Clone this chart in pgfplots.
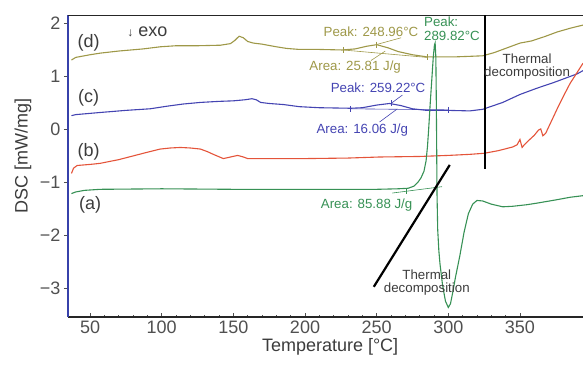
\documentclass[border=0pt]{standalone}
\usepackage{fontspec}
\setmainfont{Liberation Sans}
\usepackage{pgfplots}
\pgfplotsset{compat=1.18}
\definecolor{cOl}{RGB}{158,152,72}
\definecolor{cBl}{RGB}{68,68,178}
\definecolor{cRd}{RGB}{228,84,58}
\definecolor{cGr}{RGB}{55,145,85}
\definecolor{cAx}{RGB}{55,65,170}
\definecolor{cTk}{RGB}{80,80,80}
\definecolor{cTx}{RGB}{60,60,60}
\begin{document}
\begin{tikzpicture}[x=1pt,y=1pt]
\path[use as bounding box] (0,0) rectangle (583,365);
\begin{axis}[
  at={(68pt,48pt)}, anchor=south west,
  scale only axis, width=515pt, height=302pt,
  xmin=34.6, xmax=394, ymin=-3.55, ymax=2.15,
  clip=false,
  axis x line*=bottom, axis y line*=left,
  axis line style={-},
  x axis line style={black!85, line width=1.3pt},
  y axis line style={cAx, line width=1.3pt},
  xtick={50,100,...,350}, ytick={-3,-2,-1,0,1,2},
  yticklabels={−3,−2,−1,0,1,2},
  minor x tick num=4,
  xtick align=inside, ytick align=outside,
  tick style={cTk, line width=0.6pt},
  major tick length=4pt, minor tick length=2.5pt,
  tick label style={font=\fontsize{18}{20}\selectfont, text=cTk},
  /pgf/number format/assume math mode=true,
  xlabel={Temperature [°C]}, ylabel={DSC [mW/mg]},
  label style={font=\fontsize{18}{20}\selectfont, text=cTx},
  xlabel style={at={(axis description cs:0.509,-0.099)}, anchor=center},
  ylabel style={at={(axis description cs:-0.0874,0.533)}, anchor=center},
]
\draw[black!85, line width=0.9pt] (rel axis cs:0,1) -- (rel axis cs:1,1);
% (d) olive
\addplot[cOl, line width=1.1pt] coordinates {
(37,1.30) (40,1.35) (50,1.40) (57,1.43) (70,1.47) (87,1.51) (99,1.55) (110,1.57)
(125,1.57) (141,1.58) (148,1.61) (151,1.67) (154,1.75) (157,1.72) (160,1.65) (164,1.62)
(170,1.60) (180,1.55) (187,1.52) (196,1.50) (210,1.50) (226,1.49) (235,1.51) (243,1.56)
(250,1.59) (258,1.53) (265,1.46) (275,1.40) (285,1.36) (295,1.36) (305,1.36) (315,1.37)
(324,1.38) (332,1.44) (340,1.52) (350,1.62) (358,1.66) (367,1.74) (376,1.83) (385,1.90) (394,1.96)};
% (c) blue
\addplot[cBl, line width=1.1pt] coordinates {
(37,0.25) (40,0.27) (57,0.31) (75,0.35) (92,0.38) (104,0.43) (115,0.47) (127,0.50)
(140,0.52) (150,0.53) (158,0.55) (163,0.57) (166,0.55) (169,0.50) (175,0.48) (185,0.46)
(196,0.42) (210,0.40) (232,0.39) (240,0.40) (250,0.45) (259,0.48) (267,0.44) (275,0.38)
(285,0.35) (300,0.35) (315,0.34) (324,0.37) (338,0.50) (350,0.65) (362,0.77) (373,0.87)
(383,0.97) (390,1.04) (394,1.10)};
% (b) red
\addplot[cRd, line width=1.1pt] coordinates {
(37,-0.84) (38.5,-0.74) (41,-0.69) (50,-0.67) (57,-0.65) (70,-0.58) (80,-0.51) (90,-0.44)
(99,-0.38) (106,-0.36) (113,-0.35) (120,-0.36) (127,-0.38) (132,-0.43) (136,-0.48) (143,-0.56)
(148,-0.53) (153,-0.50) (157,-0.53) (160,-0.56) (173,-0.56) (200,-0.56) (230,-0.55) (252,-0.53)
(280,-0.52) (300,-0.50) (315,-0.48) (325,-0.46) (335,-0.41) (345,-0.34) (348,-0.30) (350,-0.20)
(351.5,-0.35) (353,-0.30) (356,-0.22) (360,-0.12) (363,-0.02) (364.5,0.0) (366,-0.13) (368,-0.08)
(372,0.15) (376,0.38) (380,0.60) (385,0.86) (390,1.07) (394,1.24)};
% (a) green
\addplot[cGr, line width=1.1pt] coordinates {
(37,-1.22) (40,-1.19) (46,-1.16) (57,-1.14) (100,-1.13) (150,-1.14) (200,-1.14) (250,-1.14)
(265,-1.13) (272,-1.12) (276,-1.08) (279,-1.00) (281,-0.92) (283,-0.80) (284.5,-0.60)
(285.5,-0.32) (286.3,0.0) (287.3,0.45) (288.4,0.90) (289.5,1.35) (290.3,1.58) (290.8,1.62)
(291.3,1.35) (291.6,0.6) (291.9,-0.4) (292.1,-1.2) (292.6,-1.9) (293.4,-2.3) (294.2,-2.55)
(296,-2.95) (298,-3.25) (300,-3.37) (301.5,-3.30) (303,-3.10) (305,-2.80) (308,-2.40)
(311,-1.95) (314,-1.60) (317,-1.42) (320,-1.35) (324,-1.36) (330,-1.42) (338,-1.47)
(345,-1.46) (355,-1.43) (362,-1.40) (375,-1.34) (385,-1.29) (394,-1.26)};
% baselines and ticks
\addplot[cOl, line width=0.6pt] coordinates {(226.5,1.49) (285,1.35)};
\addplot[cOl, line width=0.6pt, only marks, mark=|, mark size=3pt] coordinates {(226.5,1.49) (249.6,1.59) (285,1.35)};
\addplot[cOl, line width=0.6pt] coordinates {(249.6,1.59) (267,1.72)};
\addplot[cOl, line width=0.6pt] coordinates {(256,1.47) (246,1.29)};
\addplot[cBl, line width=0.6pt] coordinates {(231.5,0.38) (300,0.36)};
\addplot[cBl, line width=0.6pt, only marks, mark=|, mark size=3pt] coordinates {(231.5,0.38) (260,0.48) (300,0.36)};
\addplot[cBl, line width=0.6pt] coordinates {(260,0.48) (268,0.64)};
\addplot[cBl, line width=0.6pt] coordinates {(264,0.37) (252,0.13)};
\addplot[cGr, line width=0.6pt] coordinates {(261,-1.21) (295.6,-1.09)};
\addplot[cGr, line width=0.6pt, only marks, mark=|, mark size=3pt] coordinates {(271,-1.17)};
% black lines
\addplot[black, line width=2.2pt] coordinates {(325.6,2.15) (325.6,-0.75)};
\addplot[black, line width=2.2pt] coordinates {(248,-2.98) (301,-0.68)};
% labels
\node[font=\fontsize{18}{20}\selectfont, text=cTx] at (axis cs:49,1.62) {(d)};
\node[font=\fontsize{18}{20}\selectfont, text=cTx] at (axis cs:49,0.58) {(c)};
\node[font=\fontsize{18}{20}\selectfont, text=cTx] at (axis cs:49,-0.43) {(b)};
\node[font=\fontsize{18}{20}\selectfont, text=cTx] at (axis cs:50,-1.43) {(a)};
\node[font=\fontsize{18}{20}\selectfont, text=cTx] at (axis cs:90,1.84) {{\fontsize{12}{14}\selectfont↓} exo};
\node[font=\fontsize{13.3}{15}\selectfont, text=cOl] at (axis cs:246,1.83) {Peak: 248.96°C};
\node[font=\fontsize{13.3}{15}\selectfont, text=cOl] at (axis cs:235,1.17) {Area: 25.81 J/g};
\node[font=\fontsize{13.3}{15}\selectfont, text=cBl] at (axis cs:251,0.77) {Peak: 259.22°C};
\node[font=\fontsize{13.3}{15}\selectfont, text=cBl] at (axis cs:240,-0.02) {Area: 16.06 J/g};
\node[font=\fontsize{13.3}{14}\selectfont, text=cGr, align=left, anchor=west, inner sep=0pt] at (axis cs:283,1.9) {Peak:\\289.82°C};
\node[font=\fontsize{13.3}{15}\selectfont, text=cGr] at (axis cs:243,-1.43) {Area: 85.88 J/g};
\node[font=\fontsize{13.3}{12.5}\selectfont, text=cTx, align=center] at (axis cs:355,1.18) {Thermal\\decomposition};
\node[font=\fontsize{13.3}{12.5}\selectfont, text=cTx, align=center] at (axis cs:285,-2.9) {Thermal\\decomposition};
\end{axis}
\end{tikzpicture}
\end{document}
